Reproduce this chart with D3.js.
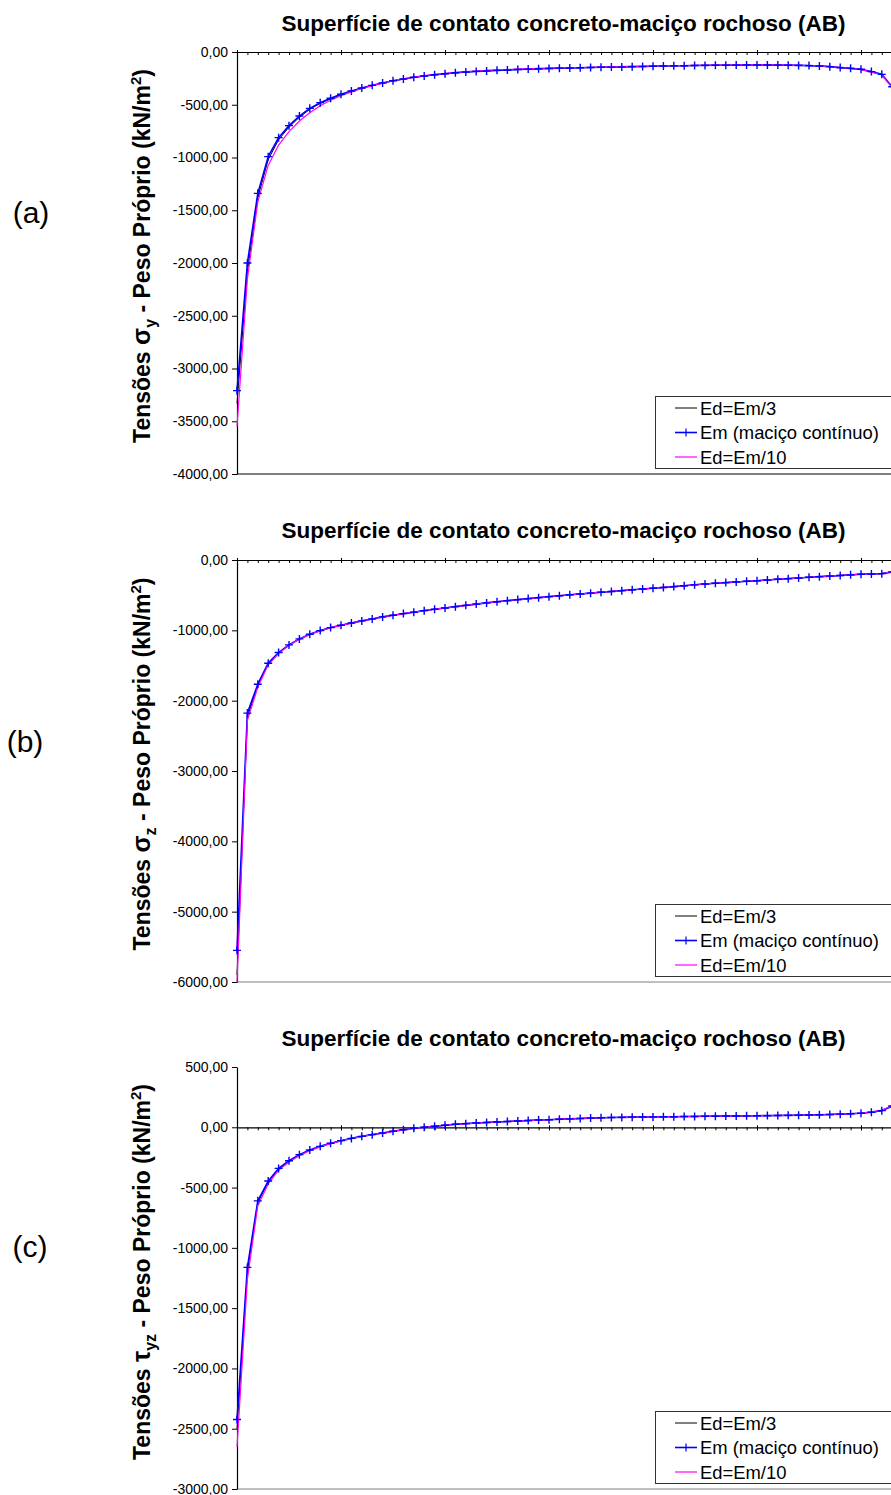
<!DOCTYPE html>
<html><head><meta charset="utf-8">
<script src="https://cdn.jsdelivr.net/npm/d3@7"></script>
<style>
body{margin:0;background:#fff}
svg{display:block}
text{font-family:Arial,"Liberation Sans",sans-serif;fill:#000}
</style></head>
<body><svg id="chart" width="891" height="1495"></svg>
<script>
// ---------------- DATA ----------------
const seriesNames = ["Ed=Em/3", "Em (maciço contínuo)", "Ed=Em/10"];
const titleText = "Superfície de contato concreto-maciço rochoso (AB)";
const panelLetters = ["(a)", "(b)", "(c)"];

const ticksA = [0, -500, -1000, -1500, -2000, -2500, -3000, -3500, -4000];
const ticksB = [0, -1000, -2000, -3000, -4000, -5000, -6000];
const ticksC = [500, 0, -500, -1000, -1500, -2000, -2500, -3000];

// (a) sigma_y
const sigY_Em = [-3210,-2000,-1340,-992,-812,-698,-607,-534,-480,-439,
  -401,-370,-341,-316,-294,-272,-256,-240,-227,-215,
  -206,-196,-190,-184,-179,-174,-170,-166,-162,-159,
  -156,-153,-151,-149,-147,-145,-143,-141,-139,-137,
  -135,-133,-131,-130,-128,-127,-126,-125,-124,-123,
  -123,-123,-124,-125,-127,-129,-133,-139,-148,-155,
  -164,-186,-212,-330];
const sigY_Ed3 = [-3330,-2080,-1380,-1020,-832,-712,-618,-543,-487,-444,
  -405,-373,-343,-318,-295,-273,-257,-241,-228,-216,
  -207,-197,-190,-184,-179,-174,-170,-166,-162,-159,
  -156,-153,-151,-149,-147,-145,-143,-141,-139,-137,
  -135,-133,-131,-130,-128,-127,-126,-125,-124,-123,
  -123,-123,-124,-125,-127,-129,-133,-139,-148,-156,
  -166,-188,-215,-335];
const sigY_Ed10 = [-3550,-2150,-1420,-1075,-882,-755,-654,-575,-509,-458,
  -414,-378,-346,-318,-294,-272,-254,-238,-224,-212,
  -202,-193,-186,-180,-175,-170,-166,-162,-158,-155,
  -153,-151,-149,-147,-145,-143,-141,-139,-137,-135,
  -133,-131,-130,-129,-127,-126,-125,-124,-123,-122,
  -122,-122,-123,-124,-126,-128,-132,-138,-147,-156,
  -167,-190,-218,-340];

// (b) sigma_z
const sigZ_Em = [-5550,-2177,-1766,-1467,-1316,-1207,-1122,-1055,-1004,-961,
  -928,-895,-866,-838,-809,-786,-762,-743,-720,-700,
  -682,-663,-645,-627,-610,-594,-578,-563,-549,-535,
  -521,-508,-495,-483,-471,-459,-447,-436,-424,-413,
  -402,-390,-378,-366,-353,-341,-331,-321,-312,-303,
  -294,-284,-274,-265,-255,-246,-237,-229,-220,-211,
  -203,-199,-194,-170];
const sigZ_Ed3 = [-5900,-2230,-1790,-1480,-1322,-1210,-1124,-1056,-1005,-962,
  -928,-895,-866,-838,-809,-786,-762,-743,-720,-700,
  -682,-663,-645,-627,-610,-594,-578,-563,-549,-535,
  -521,-508,-495,-483,-471,-459,-447,-436,-424,-413,
  -402,-390,-378,-366,-353,-341,-331,-321,-312,-303,
  -294,-284,-274,-265,-255,-246,-237,-229,-220,-211,
  -203,-199,-194,-170];
const sigZ_Ed10 = [-6000,-2280,-1810,-1490,-1330,-1215,-1128,-1060,-1008,-964,
  -930,-897,-867,-839,-810,-786,-762,-742,-719,-699,
  -681,-662,-644,-626,-609,-593,-577,-562,-548,-534,
  -520,-507,-494,-482,-470,-458,-446,-435,-423,-412,
  -401,-389,-377,-365,-352,-340,-330,-320,-311,-302,
  -293,-283,-273,-264,-254,-245,-236,-228,-219,-210,
  -202,-198,-192,-168];

// (c) tau_yz
const tauYZ_Em = [-2423,-1162,-610,-446,-341,-277,-227,-189,-158,-133,
  -111,-92,-75,-61,-47,-33,-20,-8,0,8,
  17,25,30,35,40,44,48,52,56,60,
  63,67,70,73,76,79,81,82,84,85,
  86,87,88,89,90,91,92,93,94,95,
  96,97,98,99,100,102,104,106,109,112,
  116,125,138,176];
const tauYZ_Ed3 = [-2500,-1200,-625,-455,-347,-280,-229,-190,-159,-134,
  -111,-92,-75,-61,-47,-33,-20,-8,0,8,
  17,25,30,35,40,44,48,52,56,60,
  63,67,70,73,76,79,81,82,84,85,
  86,87,88,89,90,91,92,93,94,95,
  96,97,98,99,100,102,104,106,109,112,
  116,125,138,176];
const tauYZ_Ed10 = [-2653,-1260,-650,-470,-356,-288,-235,-195,-162,-136,
  -114,-94,-77,-62,-48,-34,-21,-9,-1,7,
  16,24,30,35,40,44,48,52,56,60,
  63,67,70,73,76,79,81,82,84,85,
  86,87,88,89,90,91,92,93,94,95,
  96,97,98,99,100,102,104,106,109,113,
  118,128,142,180];

// ---------------- DRAW ----------------
const svg = d3.select("#chart");
const colors = ["#000000", "#0000ff", "#ff00ff"];
const x = d3.scaleLinear().domain([0, 70]).range([237, 237 + 10.4 * 70]);
const fmt = d => d.toFixed(2).replace(".", ",");

const panels = [
  {letter: panelLetters[0], sym: "σ", sub: "y", ticks: ticksA, domain: [-4000, 0], top: 52, bottom: 474,
   series: [sigY_Ed3, sigY_Em, sigY_Ed10], titleY: 31, letterPos: [31, 223], bottomColor: "#000", labelCY: 256},
  {letter: panelLetters[1], sym: "σ", sub: "z", ticks: ticksB, domain: [-6000, 0], top: 560, bottom: 982,
   series: [sigZ_Ed3, sigZ_Em, sigZ_Ed10], titleY: 538, letterPos: [25, 752], bottomColor: "#808080", labelCY: 764},
  {letter: panelLetters[2], sym: "τ", sub: "yz", ticks: ticksC, domain: [-3000, 500], top: 1067, bottom: 1489,
   series: [tauYZ_Ed3, tauYZ_Em, tauYZ_Ed10], titleY: 1046, letterPos: [30, 1257], bottomColor: "#808080", labelCY: 1272}
];

panels.forEach((p, pi) => {
  const g = svg.append("g");
  const y = d3.scaleLinear().domain(p.domain).range([p.bottom, p.top]);

  const clipId = "clip" + pi;
  svg.append("clipPath").attr("id", clipId).append("rect")
    .attr("x", 230).attr("y", p.top - 2).attr("width", 700).attr("height", p.bottom - p.top + 4);

  // title
  g.append("text").attr("x", 563.5).attr("y", p.titleY).attr("text-anchor", "middle")
    .style("font-weight", "bold").style("font-size", "22.5px").text(titleText);

  // panel letter
  g.append("text").attr("x", p.letterPos[0]).attr("y", p.letterPos[1]).attr("text-anchor", "middle")
    .style("font-size", "30px").text(p.letter);

  // y label
  const yl = g.append("text").attr("transform", `translate(150,${p.labelCY}) rotate(-90)`)
    .attr("text-anchor", "middle").style("font-weight", "bold").style("font-size", "23px");
  yl.append("tspan").text("Tensões ");
  yl.append("tspan").style("font-size", "25px").text(p.sym);
  yl.append("tspan").attr("dy", 6).style("font-size", "16px").text(p.sub);
  yl.append("tspan").attr("dy", -6).text(" - Peso Próprio (kN/m");
  yl.append("tspan").attr("dy", -9).style("font-size", "15px").text("2");
  yl.append("tspan").attr("dy", 9).text(")");

  // bottom border
  g.append("line").attr("x1", 237).attr("x2", 891).attr("y1", p.bottom).attr("y2", p.bottom)
    .attr("stroke", p.bottomColor).attr("stroke-width", 1);

  // y axis
  const ya = g.append("g").attr("transform", "translate(237,0)")
    .call(d3.axisLeft(y).tickValues(p.ticks).tickFormat(fmt).tickSizeInner(5).tickSizeOuter(0).tickPadding(4));
  ya.select(".domain").attr("stroke", "#000").attr("stroke-width", 1.2);
  ya.selectAll(".tick line").attr("stroke", "#000");
  ya.selectAll("text").style("font-size", "14px").style("font-family", "Arial, 'Liberation Sans', sans-serif").attr("fill", "#000");

  // x axis at y = 0
  const y0 = y(0);
  const xa = g.append("g").attr("transform", `translate(0,${y0})`)
    .call(d3.axisBottom(x).tickValues(d3.range(0, 71)).tickFormat("").tickSizeInner(3).tickSizeOuter(0));
  xa.select(".domain").attr("stroke", "#000").attr("stroke-width", 1.2);
  xa.selectAll(".tick line").attr("stroke", "#000");
  const xm = g.append("g").attr("transform", `translate(0,${y0 - 2})`)
    .call(d3.axisBottom(x).tickValues(d3.range(0, 71, 10)).tickFormat("").tickSizeInner(5).tickSizeOuter(0));
  xm.select(".domain").remove();
  xm.selectAll(".tick line").attr("stroke", "#000");

  // lines
  const plot = g.append("g").attr("clip-path", `url(#${clipId})`);
  const line = d3.line().x((d, i) => x(i)).y(d => y(d));
  const widths = [1, 1.6, 1.2];
  [0, 1, 2].forEach(si => {
    plot.append("path").datum(p.series[si]).attr("d", line)
      .attr("fill", "none").attr("stroke", colors[si]).attr("stroke-width", widths[si])
      .attr("stroke-linejoin", "round");
  });
  // markers for Em
  plot.append("g").selectAll("path").data(p.series[1]).join("path")
    .attr("d", (d, i) => `M${x(i) - 4},${y(d)}h8M${x(i)},${y(d) - 4}v8`)
    .attr("stroke", colors[1]).attr("stroke-width", 1.4).attr("fill", "none");

  // legend
  const lt = p.bottom - 78;
  const lg = g.append("g");
  lg.append("rect").attr("x", 655.5).attr("y", lt + 0.5).attr("width", 260).attr("height", 72)
    .attr("fill", "#fff").attr("stroke", "#333").attr("stroke-width", 1);
  seriesNames.forEach((name, si) => {
    const ry = lt + 12 + si * 24.5;
    lg.append("line").attr("x1", 675).attr("x2", 697).attr("y1", ry).attr("y2", ry)
      .attr("stroke", colors[si]).attr("stroke-width", widths[si]);
    if (si === 1) {
      lg.append("path").attr("d", `M682,${ry}h8M686,${ry - 4}v8`).attr("stroke", colors[1]).attr("stroke-width", 1.2);
    }
    lg.append("text").attr("x", 700).attr("y", ry + 6.5).style("font-size", "18.4px").text(name);
  });
});
</script>
</body></html>
